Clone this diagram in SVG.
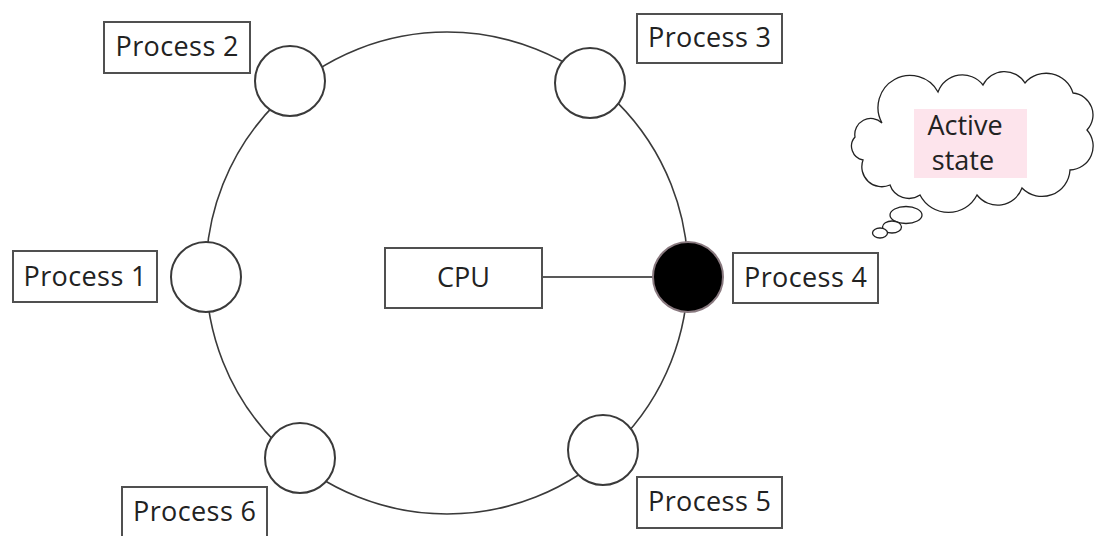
<svg xmlns="http://www.w3.org/2000/svg" width="1095" height="536" viewBox="0 0 1095 536">
<style>
.ring{fill:none;stroke:#3a3a3a;stroke-width:1.6}
.pc{fill:#fff;stroke:#3a3a3a;stroke-width:2}
.box{fill:#fff;stroke:#505050;stroke-width:2}
.lbl{font-family:"Open Sans","Noto Sans",sans-serif;font-size:27px;fill:#222;text-anchor:middle}
.conn{stroke:#222;stroke-width:1.3;fill:none}
.cloud{fill:#fff;stroke:#222;stroke-width:1.3}
</style>
<rect width="1095" height="536" fill="#fff"/>
<circle class="ring" cx="447" cy="273" r="241"/>
<g id="connectors">
<line class="conn" x1="542" y1="277" x2="654" y2="277"/>
</g>
<g id="cpu">
<rect class="box" x="385" y="248" width="157" height="60"/>
<text class="lbl" x="463.5" y="287">CPU</text>
</g>
<g id="process1">
<circle class="pc" cx="206" cy="277" r="35"/>
<rect class="box" x="13" y="251" width="144" height="51"/>
<text class="lbl" x="85" y="286" textLength="123">Process 1</text>
</g>
<g id="process2">
<circle class="pc" cx="290" cy="81" r="35"/>
<rect class="box" x="104" y="22" width="146" height="51"/>
<text class="lbl" x="177" y="56" textLength="123">Process 2</text>
</g>
<g id="process3">
<circle class="pc" cx="590" cy="83" r="35"/>
<rect class="box" x="637" y="14" width="145" height="49"/>
<text class="lbl" x="709.5" y="47" textLength="123">Process 3</text>
</g>
<g id="process4">
<circle cx="688" cy="277" r="35" fill="#000" stroke="#8a7a80" stroke-width="2"/>
<rect class="box" x="733" y="253" width="145" height="50"/>
<text class="lbl" x="805.5" y="287" textLength="123">Process 4</text>
</g>
<g id="process5">
<circle class="pc" cx="603" cy="450" r="35"/>
<rect class="box" x="637" y="477" width="145" height="51"/>
<text class="lbl" x="709.5" y="511" textLength="123">Process 5</text>
</g>
<g id="process6">
<circle class="pc" cx="300" cy="458" r="35"/>
<rect class="box" x="122" y="487" width="145" height="60"/>
<text class="lbl" x="194.5" y="521" textLength="123">Process 6</text>
</g>
<g id="active-state">
<path class="cloud" d="M882,123 A32,32 0 0 1 938,92 A26,26 0 0 1 983,85 A24,24 0 0 1 1025,83 A28,28 0 0 1 1073,93 A22,22 0 0 1 1087,130 A24,24 0 0 1 1070,170 A28,28 0 0 1 1022,188 A26,26 0 0 1 977,195 A32,32 0 0 1 920,195 A20,20 0 0 1 890,185 A20,20 0 0 1 863,160 A14,14 0 0 1 855,137 A16,16 0 0 1 882,123 Z"/>
<ellipse class="cloud" cx="906" cy="215" rx="16" ry="8.5"/>
<ellipse class="cloud" cx="892" cy="227" rx="9.5" ry="6"/>
<ellipse class="cloud" cx="880" cy="233" rx="7.5" ry="5"/>
<rect x="914" y="109" width="113" height="69" fill="#fde4ec"/>
<text class="lbl" x="965" y="135">Active</text>
<text class="lbl" x="963" y="170">state</text>
</g>
</svg>
